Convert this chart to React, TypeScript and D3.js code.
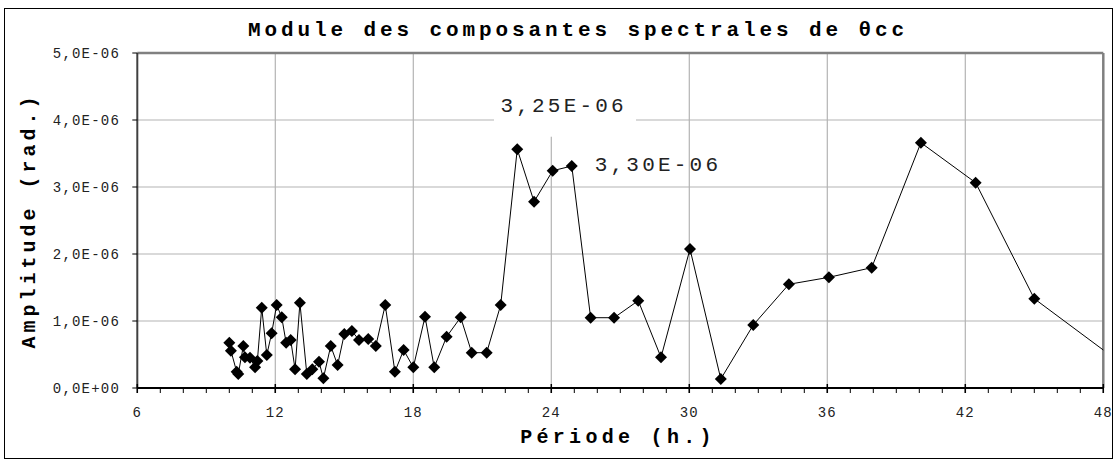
import React from "react";
import * as d3 from "d3";

// ---- data ----
const periods = [
  10.0, 10.07, 10.32, 10.39, 10.61, 10.68, 10.9, 11.12, 11.22, 11.41,
  11.63, 11.84, 12.06, 12.28, 12.47, 12.67, 12.86, 13.07, 13.37, 13.61,
  13.9, 14.09, 14.41, 14.71, 15.0, 15.33, 15.64, 16.04, 16.37, 16.78,
  17.2, 17.58, 18.0, 18.51, 18.91, 19.45, 20.06, 20.54, 21.19, 21.8,
  22.52, 23.25, 24.06, 24.89, 25.71, 26.73, 27.78, 28.77, 30.03, 31.37,
  32.78, 34.33, 36.07, 37.93, 40.07, 42.45, 45.0, 48.0,
];
const amplitudes = [
  0.676, 0.557, 0.243, 0.209, 0.627, 0.458, 0.452, 0.309, 0.403, 1.199,
  0.493, 0.816, 1.239, 1.055, 0.676, 0.716, 0.279, 1.273, 0.209, 0.279,
  0.393, 0.145, 0.627, 0.343, 0.806, 0.851, 0.716, 0.731, 0.627, 1.239,
  0.243, 0.567, 0.309, 1.064, 0.309, 0.766, 1.055, 0.527, 0.527, 1.239,
  3.563, 2.781, 3.243, 3.313, 1.049, 1.049, 1.303, 0.458, 2.075, 0.134,
  0.94, 1.548, 1.652, 1.796, 3.661, 3.064, 1.333, 0.567,
].map((v) => v * 1e-6);

const xTicks = [6, 12, 18, 24, 30, 36, 42, 48];
const xMinorTicks = d3.range(6, 49, 1);
const yTicks = [0, 1e-6, 2e-6, 3e-6, 4e-6, 5e-6];
const annotIndex = [42, 43];
const annotLabels = ["3,25E-06", "3,30E-06"];

const title = "Module des composantes spectrales de θcc";
const xTitle = "Période (h.)";
const yTitle = "Amplitude (rad.)";

// ---- layout ----
const W = 1117;
const H = 463;
const plot = { left: 137.3, right: 1103.3, top: 53, bottom: 388 };
const FONT = "'Liberation Mono', 'Courier New', monospace";

function fmtE(v: number): string {
  if (v === 0) return "0,0E+00";
  const e = Math.floor(Math.log10(Math.abs(v)) + 1e-9);
  const m = v / Math.pow(10, e);
  const s = e < 0 ? "-" : "+";
  return m.toFixed(1).replace(".", ",") + "E" + s + String(Math.abs(e)).padStart(2, "0");
}

export default function App() {
  const x = d3.scaleLinear().domain([6, 48]).range([plot.left, plot.right]);
  const y = d3.scaleLinear().domain([0, 5e-6]).range([plot.bottom, plot.top]);
  const pts = periods.map((p, i) => [x(p), y(amplitudes[i])] as [number, number]);
  const line = d3.line<[number, number]>()(pts) || "";
  const diamond = "M0,-6L6,0L0,6L-6,0Z";

  const a0 = pts[annotIndex[0]];
  const a1 = pts[annotIndex[1]];

  return (
    <svg
      width={W}
      height={H}
      style={{ position: "absolute", left: 0, top: 0, background: "#fff" }}
    >
      <rect x={0} y={0} width={W} height={H} fill="#fff" />
      {/* outer frame */}
      <rect x={4.5} y={8.5} width={1108} height={450} fill="none" stroke="#000" strokeWidth={1} />

      {/* gridlines */}
      {yTicks.slice(1, -1).map((t) => (
        <line key={"gy" + t} x1={plot.left} x2={plot.right} y1={y(t)} y2={y(t)} stroke="#b4b4b4" strokeWidth={1.2} />
      ))}
      {xTicks.slice(1, -1).map((t) => (
        <line key={"gx" + t} x1={x(t)} x2={x(t)} y1={plot.top} y2={plot.bottom} stroke="#b4b4b4" strokeWidth={1.2} />
      ))}

      {/* white box behind first annotation */}
      <rect x={494} y={plot.top + 1} width={142} height={a0[1] - 35 - plot.top} fill="#fff" />

      {/* plot frame top / right */}
      <line x1={plot.left} x2={plot.right} y1={plot.top} y2={plot.top} stroke="#808080" strokeWidth={2.5} />
      <line x1={plot.right} x2={plot.right} y1={plot.top} y2={plot.bottom} stroke="#808080" strokeWidth={2.5} />

      {/* axes */}
      <line x1={plot.left} x2={plot.left} y1={plot.top} y2={plot.bottom} stroke="#404040" strokeWidth={2} />
      <line x1={plot.left} x2={plot.right} y1={plot.bottom} y2={plot.bottom} stroke="#000" strokeWidth={2} />

      {/* y ticks */}
      {yTicks.map((t) => (
        <g key={"yt" + t}>
          <line x1={plot.left - 5} x2={plot.left} y1={y(t)} y2={y(t)} stroke="#000" strokeWidth={1} />
          <text
            x={120}
            y={y(t)}
            dy="0.35em"
            textAnchor="end"
            fontFamily={FONT}
            fontSize={14}
            letterSpacing={1.2}
            fill="#222"
          >
            {fmtE(t)}
          </text>
        </g>
      ))}

      {/* x ticks */}
      {xMinorTicks.map((t) => (
        <line key={"xm" + t} x1={x(t)} x2={x(t)} y1={plot.bottom} y2={plot.bottom + 5} stroke="#000" strokeWidth={1} />
      ))}
      {xTicks.map((t) => (
        <g key={"xt" + t}>
          <line x1={x(t)} x2={x(t)} y1={plot.bottom - 4} y2={plot.bottom + 5} stroke="#000" strokeWidth={1.5} />
          <text
            x={x(t)}
            y={417}
            textAnchor="middle"
            fontFamily={FONT}
            fontSize={14}
            letterSpacing={1.2}
            fill="#222"
          >
            {t}
          </text>
        </g>
      ))}

      {/* series */}
      <path d={line} fill="none" stroke="#000" strokeWidth={1} />
      {pts.map((p, i) =>
        periods[i] < 48 ? (
          <path key={"m" + i} d={diamond} transform={`translate(${p[0]},${p[1]})`} fill="#000" />
        ) : null
      )}

      {/* annotations */}
      <text
        x={a0[0] + 11}
        y={a0[1] - 66}
        dy="0.35em"
        textAnchor="middle"
        fontFamily={FONT}
        fontSize={21}
        letterSpacing={3.2}
        fill="#222"
      >
        {annotLabels[0]}
      </text>
      <text
        x={a1[0] + 23}
        y={a1[1] - 2}
        dy="0.35em"
        textAnchor="start"
        fontFamily={FONT}
        fontSize={21}
        letterSpacing={3.2}
        fill="#222"
      >
        {annotLabels[1]}
      </text>

      {/* titles */}
      <text
        x={578}
        y={36}
        textAnchor="middle"
        fontFamily={FONT}
        fontWeight="bold"
        fontSize={21}
        letterSpacing={3.9}
        fill="#000"
      >
        {title}
      </text>
      <text
        x={618}
        y={443}
        textAnchor="middle"
        fontFamily={FONT}
        fontWeight="bold"
        fontSize={20}
        letterSpacing={4.3}
        fill="#000"
      >
        {xTitle}
      </text>
      <text
        transform={`translate(35,${(plot.top + plot.bottom) / 2}) rotate(-90)`}
        textAnchor="middle"
        fontFamily={FONT}
        fontWeight="bold"
        fontSize={20}
        letterSpacing={4}
        fill="#000"
      >
        {yTitle}
      </text>
    </svg>
  );
}
